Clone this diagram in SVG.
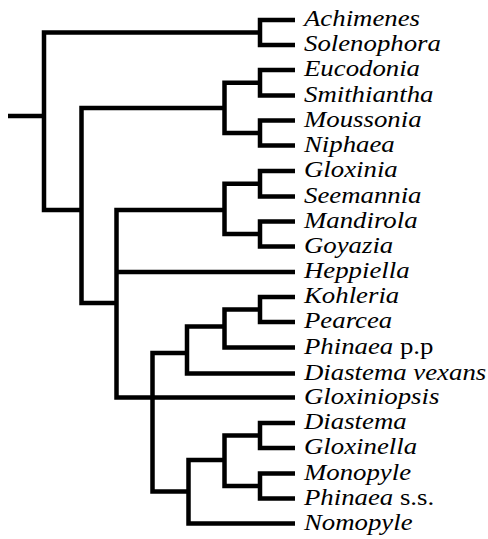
<svg xmlns="http://www.w3.org/2000/svg" width="488" height="539" viewBox="0 0 488 539">
<style>
.br{fill:none;stroke:#000;stroke-width:4.5;stroke-linejoin:miter;stroke-linecap:butt}
.t{font-family:"Liberation Serif","Times New Roman",serif;font-style:italic;font-size:23px;fill:#000}
.u{font-style:normal}
</style>
<rect width="488" height="539" fill="#fff"/>
<g id="connectors" class="br">
<path d="M8 116H44"/>
<path d="M260 32.5H44V210H81.5"/>
<path d="M295 20H260V45H295"/>
<path d="M224.5 108H81.5V303H116.5"/>
<path d="M260 82.75H224.5V133H260"/>
<path d="M295 70H260V95.5H295"/>
<path d="M295 120.5H260V145.5H295"/>
<path d="M224.5 210H116.5V397.5H295"/>
<path d="M116.5 272H295"/>
<path d="M260 183.75H224.5V234H260"/>
<path d="M295 171H260V196.5H295"/>
<path d="M295 221.5H260V246.5H295"/>
<path d="M187 353H152.5V491.5H188.5"/>
<path d="M224.5 326.5H187V373.5H295"/>
<path d="M260 309.5H224.5V347.5H295"/>
<path d="M295 297H260V322H295"/>
<path d="M224.5 460H188.5V523.5H295"/>
<path d="M260 435.5H224.5V486H260"/>
<path d="M295 423H260V448H295"/>
<path d="M295 473.5H260V498.5H295"/>
</g>
<g id="n-achimenes" transform="matrix(1.165 0 0 1 304 26)"><text class="t">Achimenes</text></g>
<g id="n-solenophora" transform="matrix(1.165 0 0 1 304 51)"><text class="t">Solenophora</text></g>
<g id="n-eucodonia" transform="matrix(1.165 0 0 1 304 76)"><text class="t">Eucodonia</text></g>
<g id="n-smithiantha" transform="matrix(1.165 0 0 1 304 101.5)"><text class="t">Smithiantha</text></g>
<g id="n-moussonia" transform="matrix(1.165 0 0 1 304 126.5)"><text class="t">Moussonia</text></g>
<g id="n-niphaea" transform="matrix(1.165 0 0 1 304 151.5)"><text class="t">Niphaea</text></g>
<g id="n-gloxinia" transform="matrix(1.165 0 0 1 304 177)"><text class="t">Gloxinia</text></g>
<g id="n-seemannia" transform="matrix(1.165 0 0 1 304 202.5)"><text class="t">Seemannia</text></g>
<g id="n-mandirola" transform="matrix(1.165 0 0 1 304 227.5)"><text class="t">Mandirola</text></g>
<g id="n-goyazia" transform="matrix(1.165 0 0 1 304 252.5)"><text class="t">Goyazia</text></g>
<g id="n-heppiella" transform="matrix(1.165 0 0 1 304 278)"><text class="t">Heppiella</text></g>
<g id="n-kohleria" transform="matrix(1.165 0 0 1 304 303)"><text class="t">Kohleria</text></g>
<g id="n-pearcea" transform="matrix(1.165 0 0 1 304 328)"><text class="t">Pearcea</text></g>
<g id="n-phinaea-pp" transform="matrix(1.165 0 0 1 304 353.5)"><text class="t">Phinaea<tspan class="u"> p.p</tspan></text></g>
<g id="n-diastema-vexans" transform="matrix(1.165 0 0 1 304 379.5)"><text class="t">Diastema vexans</text></g>
<g id="n-gloxiniopsis" transform="matrix(1.165 0 0 1 304 403.5)"><text class="t">Gloxiniopsis</text></g>
<g id="n-diastema" transform="matrix(1.165 0 0 1 304 429)"><text class="t">Diastema</text></g>
<g id="n-gloxinella" transform="matrix(1.165 0 0 1 304 454)"><text class="t">Gloxinella</text></g>
<g id="n-monopyle" transform="matrix(1.165 0 0 1 304 479.5)"><text class="t">Monopyle</text></g>
<g id="n-phinaea-ss" transform="matrix(1.165 0 0 1 304 504.5)"><text class="t">Phinaea<tspan class="u"> s.s.</tspan></text></g>
<g id="n-nomopyle" transform="matrix(1.165 0 0 1 304 529.5)"><text class="t">Nomopyle</text></g>
</svg>
